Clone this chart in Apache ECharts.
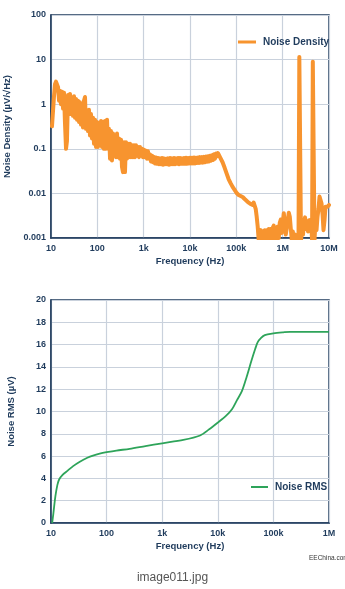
<!DOCTYPE html>
<html>
<head>
<meta charset="utf-8">
<script src="https://cdn.jsdelivr.net/npm/echarts@6/dist/echarts.min.js"></script>
<style>
html,body{margin:0;padding:0;background:#fff;}
#c{width:345px;height:589px;}
</style>
</head>
<body>
<div id="c"></div>
<script>
// ---------- Data ----------
// Noise density spectrum (Hz, µV/√Hz)
const densityFreq = [
  10.5,11.0,11.6,12.2,12.8,13.5,14.2,14.9,15.6,16.4,17.3,18.2,19.1,20.0,21.1,22.1,23.3,24.5,25.7,27.0,28.4,29.8,31.4,32.9,34.6,36.4,38.2,40.2,42.2,44.4,46.6,49.0,51.5,54.2,56.9,59.8,62.9,66.0,69.4,73.0,76.7,80.6,84.7,89.0,93.5,98.3,
  103,109,114,120,126,132,139,146,154,162,170,178,188,197,207,218,229,240,253,266,279,293,308,324,340,358,376,395,415,436,459,482,507,532,560,588,618,650,683,717,754,792,833,875,920,967,
  1016,1068,1122,1179,1239,1302,1369,1438,1512,1589,1670,1755,1844,1938,2037,2141,2250,2364,2485,2611,2744,2884,3031,3186,3348,3519,3698,3886,4084,4292,4511,4741,4982,5236,5503,5783,6078,6388,6713,7055,7415,7792,8189,8607,9045,9506,9990,10500,11030,11600,12190,12810,13460,14150,14870,15630,16420,17260,18140,19060,20030,21050,22130,23250,24440,25680,26990,28370,29810,31330,32930,34600,36370,38220,40170,42220,44370,
  50460,55750,61600,68060,75200,83090,91810,101400,112100,123800,136800,151200,167000,184600,203900,225300,236800,248900,261700,275100,289100,303900,
  335800,352900,371000,390000,409900,430800,452900,476000,500400,525900,552800,581100,610800,642000,674900,709400,745600,783800,823800,866000,910200,956800,1006000,1057000,1111000,1168000,1228000,1290000,1356000,1426000,1499000,1575000,1656000,1741000,1830000,1923000,2021000,2125000,
  2198000,2288000,2404000,2489000,2616000,2750000,2890000,3038000,3193000,3357000,3528000,3709000,3898000,4098000,4307000,4474000,4700000,4868000,
  5120000,5380000,5650000,5940000,6240000,6560000,6890000,7240000,7610000,8000000,8410000,8840000,9290000,10000000];
const densityValue = [
  0.32,0.30,1.5,2.8,3.2,3.1,2.4,1.2,2.0,1.0,1.9,0.8,1.8,0.4,0.1,0.15,1.6,0.7,1.7,0.6,1.4,0.55,1.5,0.5,1.3,0.45,1.2,0.4,1.1,0.35,1.0,0.3,1.2,1.45,0.28,0.7,0.25,0.75,0.2,0.6,0.17,0.5,0.13,0.45,0.11,0.4,
  0.11,0.38,0.12,0.42,0.11,0.4,0.1,0.42,0.1,0.45,0.1,0.28,0.06,0.25,0.055,0.22,0.07,0.2,0.065,0.22,0.065,0.17,0.06,0.16,0.04,0.03,0.14,0.03,0.14,0.06,0.13,0.065,0.13,0.065,0.12,0.065,0.12,0.065,0.12,0.07,0.11,0.065,0.11,0.07,0.1,0.065,
  0.095,0.065,0.09,0.06,0.088,0.06,0.075,0.052,0.07,0.05,0.066,0.047,0.064,0.046,0.062,0.045,0.061,0.045,0.062,0.044,0.061,0.045,0.06,0.045,0.061,0.044,0.062,0.045,0.061,0.045,0.062,0.045,0.061,0.046,0.062,0.045,0.062,0.046,0.061,0.046,0.062,0.046,0.063,0.046,0.062,0.047,0.063,0.047,0.063,0.047,0.064,0.047,0.063,0.048,0.064,0.048,0.065,0.049,0.065,0.049,0.066,0.05,0.067,0.051,0.068,0.052,0.07,0.054,0.072,0.056,0.075,0.06,0.078,0.068,0.08,0.075,0.065,
  0.05,0.038,0.028,0.021,0.017,0.014,0.012,0.0102,0.0092,0.009,0.0083,0.0075,0.0068,0.0062,0.0058,0.0055,0.0062,0.006,0.0045,0.003,0.0018,0.0009,
  0.0015,0.0008,0.0014,0.0008,0.0015,0.0008,0.0015,0.0008,0.0016,0.0008,0.0016,0.0009,0.0017,0.0019,0.0009,0.0017,0.0009,0.0018,0.001,0.0022,0.0026,0.0013,0.0022,0.0036,0.0022,0.0012,0.0017,0.0025,0.0037,0.003,0.0016,0.0009,0.0014,0.0009,0.0012,0.0008,0.0011,0.0008,
  0.0009,11.5,11,0.0009,0.0015,0.0012,0.0022,0.0029,0.0016,0.0022,0.0014,0.0025,0.0018,0.0026,0.0009,9.0,8.7,0.0009,
  0.0025,0.0015,0.003,0.0045,0.0085,0.009,0.006,0.0035,0.0015,0.0025,0.005,0.0055,0.005,0.0055];

// Integrated RMS noise (Hz, µV)
const rmsFreq = [10.5,11,12,13,14,16,20,25,33,45,57,75,100,150,260,500,1000,2400,4800,7000,10000,14000,18000,22000,27000,33000,40000,47000,52000,60000,70000,100000,150000,200000,1000000];
const rmsValue = [0,0.8,2.4,3.4,3.9,4.3,4.7,5.1,5.5,5.85,6.05,6.22,6.35,6.5,6.65,6.9,7.15,7.45,7.85,8.4,9.0,9.6,10.2,11.0,11.8,13.1,14.5,15.6,16.2,16.6,16.85,17.0,17.1,17.15,17.15];

const freqLabels = {1:'10',2:'100',3:'1k',4:'10k',5:'100k',6:'1M',7:'10M'};
const densityLabels = {'-3':'0.001','-2':'0.01','-1':'0.1','0':'1','1':'10','2':'100'};

const seriesNames = ['Noise Density','Noise RMS'];
const axisTitles = {x:'Frequency (Hz)', y1:'Noise Density (µV/√Hz)', y2:'Noise RMS (µV)'};

// ---------- Style ----------
const NAVY = '#1f3b5c';
const GRID = '#c9d1dc';
const ORANGE = '#f7942f';
const GREEN = '#2ea45a';
const FONT = 'Liberation Sans, Arial, sans-serif';

const labelStyle = {color: NAVY, fontWeight: 'bold', fontSize: 9, fontFamily: FONT};
const nameStyle = {color: NAVY, fontWeight: 'bold', fontSize: 9.5, fontFamily: FONT};

function xAxisCfg(gridIndex, max){
  return {
    type:'log', logBase:10, gridIndex, min:10, max,
    axisLine:{show:true, lineStyle:{color:NAVY, width:1.5}},
    axisTick:{show:false},
    splitLine:{show:true, lineStyle:{color:GRID, width:1.2}},
    axisLabel:Object.assign({margin:6, formatter:v=>freqLabels[Math.round(Math.log10(v))]}, labelStyle),
    name:axisTitles.x, nameLocation:'middle', nameGap:18, nameTextStyle:nameStyle
  };
}

const chart = echarts.init(document.getElementById('c'), null, {renderer:'canvas'});
chart.setOption({
  animation:false,
  backgroundColor:'#fff',
  grid:[
    {left:51, top:15, width:278, height:223, show:true, borderColor:NAVY, borderWidth:1.5, backgroundColor:'transparent', containLabel:false, outerBoundsMode:'none'},
    {left:51, top:300, width:278, height:223, show:true, borderColor:NAVY, borderWidth:1.5, backgroundColor:'transparent', containLabel:false, outerBoundsMode:'none'}
  ],
  xAxis:[ xAxisCfg(0, 1e7), xAxisCfg(1, 1e6) ],
  yAxis:[
    {type:'log', logBase:10, gridIndex:0, min:0.001, max:100,
     axisLine:{show:true, lineStyle:{color:NAVY, width:1.5}},
     axisTick:{show:false},
     splitLine:{show:true, lineStyle:{color:GRID, width:1.2}},
     axisLabel:Object.assign({margin:5, formatter:v=>densityLabels[String(Math.round(Math.log10(v)))]}, labelStyle),
     name:axisTitles.y1, nameLocation:'middle', nameGap:35, nameTextStyle:nameStyle},
    {type:'value', gridIndex:1, min:0, max:20, interval:2,
     axisLine:{show:true, lineStyle:{color:NAVY, width:1.5}},
     axisTick:{show:false},
     splitLine:{show:true, lineStyle:{color:GRID, width:1.2}},
     axisLabel:Object.assign({margin:5}, labelStyle),
     name:axisTitles.y2, nameLocation:'middle', nameGap:35, nameTextStyle:nameStyle}
  ],
  legend:[
    {data:[seriesNames[0]], left:233, top:32, padding:5, icon:'rect', itemWidth:18, itemHeight:3, itemGap:4,
     textStyle:{color:NAVY, fontWeight:'bold', fontSize:10, fontFamily:FONT, padding:[0,0,0,2]}},
    {data:[seriesNames[1]], left:246, top:477, padding:5, icon:'rect', itemWidth:17, itemHeight:2, itemGap:4,
     textStyle:{color:NAVY, fontWeight:'bold', fontSize:10, fontFamily:FONT, padding:[0,0,0,2]}}
  ],
  series:[
    {name:seriesNames[0], type:'line', xAxisIndex:0, yAxisIndex:0, showSymbol:false, symbol:'none',
     data:densityFreq.map((f,i)=>[f, densityValue[i]]),
     lineStyle:{color:ORANGE, width:4, join:'round', cap:'round'}, itemStyle:{color:ORANGE}},
    {name:seriesNames[1], type:'line', xAxisIndex:1, yAxisIndex:1, showSymbol:false, symbol:'none', smooth:0.3,
     data:rmsFreq.map((f,i)=>[f, rmsValue[i]]),
     lineStyle:{color:GREEN, width:1.8}, itemStyle:{color:GREEN}}
  ],
  graphic:[
    {type:'text', left:309, top:555, style:{text:'EEChina.com', fill:'#333', font:'6.5px '+FONT}},
    {type:'text', left:'center', top:572, style:{text:'image011.jpg', fill:'#555', font:'12px '+FONT}}
  ]
});
</script>
</body>
</html>
